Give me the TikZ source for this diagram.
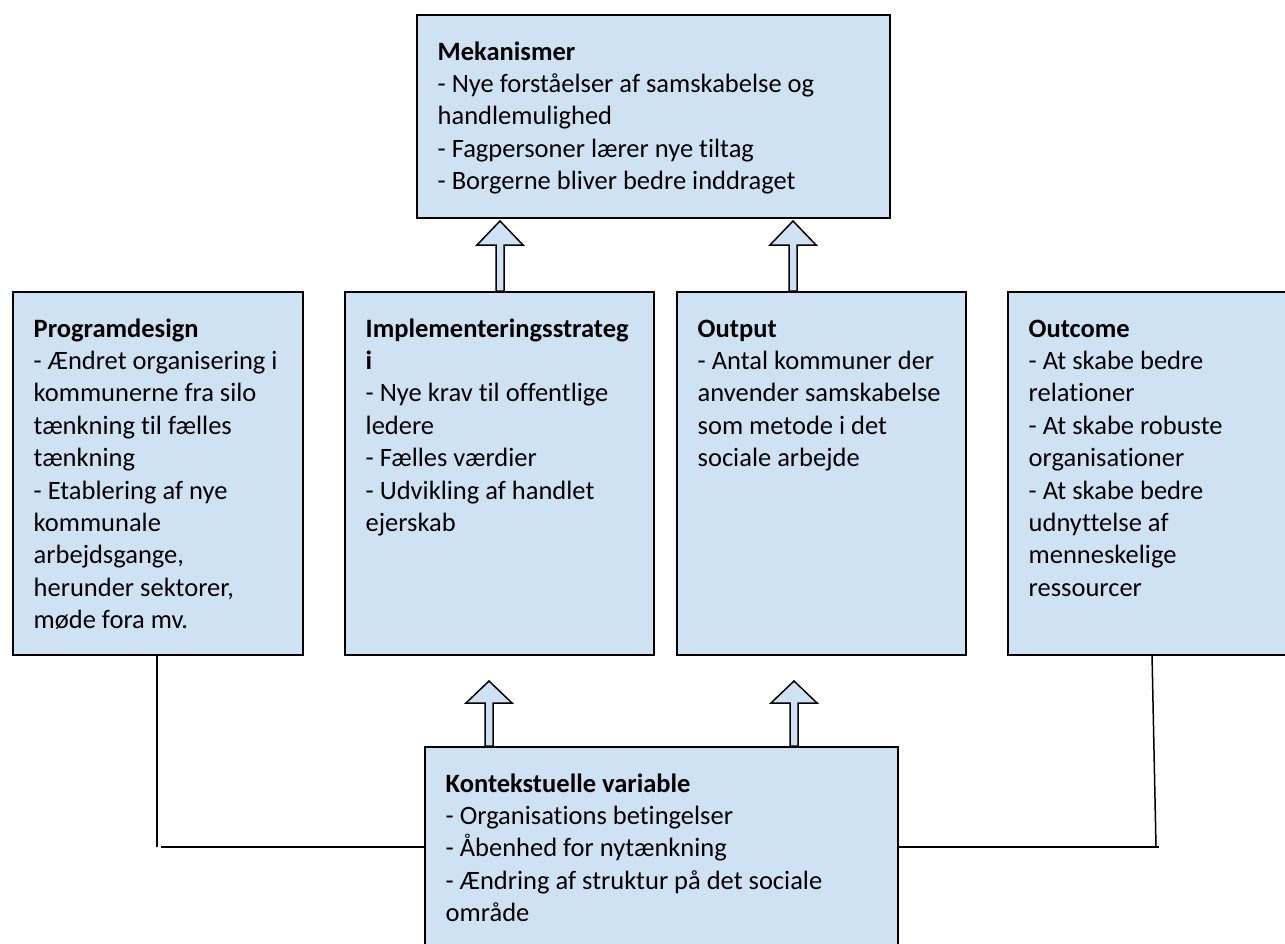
\documentclass[tikz,border=0pt]{standalone}
\usepackage{fontspec}
\setmainfont{Carlito}[Ligatures={NoCommon}]
\usetikzlibrary{calc}
\definecolor{boxfill}{RGB}{207,226,243}
\tikzset{
  box/.style={draw=black, fill=boxfill, line width=1.6pt, anchor=north west, inner sep=0pt},
  txt/.style={anchor=base west, inner sep=0pt, font=\fontsize{26.5}{32.4}\selectfont},
  arr/.style={draw=black, fill=boxfill, line width=1.5pt, line join=miter},
  conn/.style={draw=black, line width=1.5pt}
}
\newcommand{\bx}[5]{%
  \node[box, minimum width={(#4-#2)*1pt}, minimum height={(#5-#3)*1pt}] (#1) at (#2,#3) {};}
\newcommand{\bxtext}[2]{%
  \node[txt] (#1-t) at ($(#1.north west)+(21.5,46)$) {\begin{tabular}[t]{@{}l@{}}#2\end{tabular}};}
\newcommand{\uparr}[4]{%
  \draw[arr] (#1,#2) -- (#1+23,#3) -- (#1+4,#3) -- (#1+4,#4) -- (#1-4,#4) -- (#1-4,#3) -- (#1-23,#3) -- cycle;}
\begin{document}
\begin{tikzpicture}[x=1pt,y=-1pt]
\clip (0,0) rectangle (1285,943);
\fill[white] (0,0) rectangle (1285,943);
% boxes
\bx{mek}{416}{14}{889}{217}
\bx{prog}{12}{291}{302}{654}
\bx{impl}{344}{291}{653}{654}
\bx{outp}{676}{291}{965}{654}
\bx{outc}{1007}{291}{1300}{654}
\bx{kont}{424}{746}{897}{960}
% texts
\bxtext{mek}{\textbf{Mekanismer}\\- Nye forståelser af samskabelse og\\handlemulighed\\- Fagpersoner lærer nye tiltag\\- Borgerne bliver bedre inddraget}
\bxtext{prog}{\textbf{Programdesign}\\- Ændret organisering i\\kommunerne fra silo\\tænkning til fælles\\tænkning\\- Etablering af nye\\kommunale\\arbejdsgange,\\herunder sektorer,\\møde fora mv.}
\bxtext{impl}{\textbf{Implementeringsstrateg}\\\textbf{i}\\- Nye krav til offentlige\\ledere\\- Fælles værdier\\- Udvikling af handlet\\ejerskab}
\bxtext{outp}{\textbf{Output}\\- Antal kommuner der\\anvender samskabelse\\som metode i det\\sociale arbejde}
\bxtext{outc}{\textbf{Outcome}\\- At skabe bedre\\relationer\\- At skabe robuste\\organisationer\\- At skabe bedre\\udnyttelse af\\menneskelige\\ressourcer}
\bxtext{kont}{\textbf{Kontekstuelle variable}\\- Organisations betingelser\\- Åbenhed for nytænkning\\- Ændring af struktur på det sociale\\område}
% block arrows
\uparr{500}{221}{245}{291}
\uparr{793}{221}{245}{291}
\uparr{489}{681}{703}{746}
\uparr{794}{681}{703}{746}
% connector lines
\coordinate (lc) at (157,847);
\coordinate (rc) at (1156,847);
\draw[conn] (prog.south -| lc) -- (lc);
\draw[conn] ([xshift=4pt]lc) -- (kont.west |- lc);
\draw[conn] (1152,654) -- (rc);
\draw[conn] (kont.east |- rc) -- ([xshift=3pt]rc);
\end{tikzpicture}
\end{document}
